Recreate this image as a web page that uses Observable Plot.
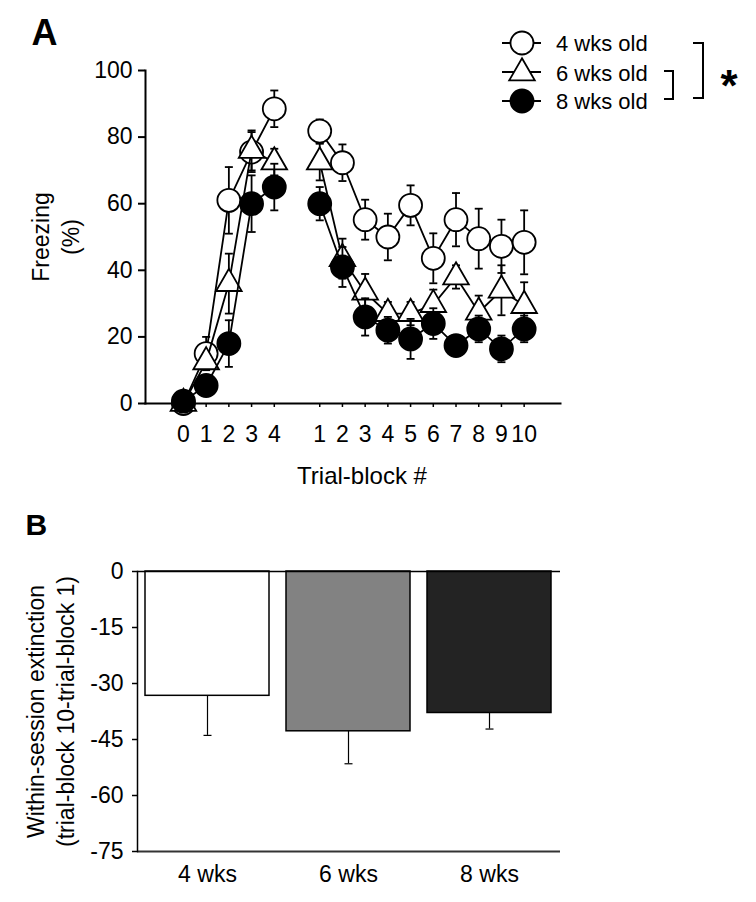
<!DOCTYPE html>
<html>
<head>
<meta charset="utf-8">
<script src="https://cdn.jsdelivr.net/npm/d3@7"></script>
<script src="https://cdn.jsdelivr.net/npm/@observablehq/plot@0.6"></script>
<style>
  html, body { margin: 0; padding: 0; background: white; }
  #chart { position: relative; width: 756px; height: 902px; }
  #chart svg { display: block; }
</style>
</head>
<body>
<div id="chart"></div>
<script>
// ---------- Data ----------
const seriesNames = ["4 wks old", "6 wks old", "8 wks old"];
const acqBlocks = [0, 1, 2, 3, 4];
const extBlocks = [1, 2, 3, 4, 5, 6, 7, 8, 9, 10];

const wk4AcqMean = [0, 15, 61, 75.5, 88.5];
const wk4AcqSem  = [1, 5, 10, 6, 5.5];
const wk6AcqMean = [0, 12.5, 36, 76, 72.5];
const wk6AcqSem  = [1, 2, 9, 6, 4];
const wk8AcqMean = [0.7, 5.4, 18, 60, 65];
const wk8AcqSem  = [1, 3, 7, 8.5, 7];

const wk4ExtMean = [81.8, 72.3, 55.2, 50, 59.5, 43.6, 55.2, 49.5, 47.2, 48.4];
const wk4ExtSem  = [3.5, 5.5, 6, 7, 6, 7.5, 8, 9, 8, 9.6];
const wk6ExtMean = [72.5, 43.5, 33.4, 27, 27, 29.7, 38, 27.4, 34, 29.4];
const wk6ExtSem  = [5.5, 6, 5.5, 3.5, 3.5, 4.5, 3.5, 5, 7.5, 7];
const wk8ExtMean = [60, 41, 26, 22, 19.4, 24, 17.4, 22.4, 16.4, 22.4];
const wk8ExtSem  = [5, 6, 5.6, 4, 6, 4.6, 2, 4, 4, 4];

const yTicksA = [0, 20, 40, 60, 80, 100];

const groupsB = ["4 wks", "6 wks", "8 wks"];
const extinctionB = [-33.3, -42.8, -37.9];
const extinctionSemB = [10.6, 8.7, 4.3];
const barColorsB = ["#ffffff", "#828282", "#232323"];
const yTicksB = [0, -15, -30, -45, -60, -75];

// ---------- Build tables ----------
const FONT = "'Liberation Sans', Arial, Helvetica, sans-serif";
const GAP = 5; // extinction blocks are placed after a gap on the x axis
const acqMeans = [wk4AcqMean, wk6AcqMean, wk8AcqMean];
const acqSems = [wk4AcqSem, wk6AcqSem, wk8AcqSem];
const extMeans = [wk4ExtMean, wk6ExtMean, wk8ExtMean];
const extSems = [wk4ExtSem, wk6ExtSem, wk8ExtSem];

const rowsA = [];
seriesNames.forEach((s, si) => {
  acqBlocks.forEach((b, i) => rowsA.push({series: s, phase: "acq", block: b, pos: b, mean: acqMeans[si][i], sem: acqSems[si][i]}));
  extBlocks.forEach((b, i) => rowsA.push({series: s, phase: "ext", block: b, pos: b + GAP, mean: extMeans[si][i], sem: extSems[si][i]}));
});
const tickPos = [...acqBlocks, ...extBlocks.map(b => b + GAP)];
const tickLab = [...acqBlocks, ...extBlocks].map(String);

const rowsB = groupsB.map((g, i) => ({group: g, value: extinctionB[i], sem: extinctionSemB[i], color: barColorsB[i]}));

// horizontal cap symbol for error bars
const cap = {draw(ctx, size) { const r = Math.sqrt(size / Math.PI); ctx.moveTo(-r, 0); ctx.lineTo(r, 0); }};

const styles = [
  {symbol: "circle", r: 11.5, fill: "white"},
  {symbol: "triangle", r: 9.5, fill: "white"},
  {symbol: "circle", r: 11.5, fill: "black"}
];

const seriesMarks = [];
seriesNames.forEach((s, si) => {
  const d = rowsA.filter(r => r.series === s);
  const st = styles[si];
  seriesMarks.push(
    Plot.line(d, {x: "pos", y: "mean", z: "phase", stroke: "black", strokeWidth: 1.8}),
    Plot.ruleX(d, {x: "pos", y1: r => r.mean - r.sem, y2: r => r.mean + r.sem, stroke: "black", strokeWidth: 1.8}),
    Plot.dot(d, {x: "pos", y: r => r.mean + r.sem, symbol: cap, r: 4, stroke: "black", strokeWidth: 1.8, fill: "none"}),
    Plot.dot(d, {x: "pos", y: r => r.mean - r.sem, symbol: cap, r: 4, stroke: "black", strokeWidth: 1.8, fill: "none"}),
    Plot.dot(d, {x: "pos", y: "mean", symbol: st.symbol, r: st.r, fill: st.fill, stroke: "black", strokeWidth: 1.8})
  );
});

// ---------- Panel A ----------
const plotA = Plot.plot({
  width: 756, height: 500,
  marginLeft: 145, marginRight: 196, marginTop: 70, marginBottom: 97,
  style: {fontFamily: FONT, fontSize: "23px", color: "black", background: "white", overflow: "visible"},
  x: {domain: [-1.67, 16.6]},
  y: {domain: [0, 100]},
  marks: [
    Plot.frame({anchor: "left", strokeWidth: 2}),
    Plot.frame({anchor: "bottom", strokeWidth: 2}),
    Plot.axisY({ticks: yTicksA, tickSize: 7, tickPadding: 6, label: null, fontSize: 23, strokeWidth: 2, tickFormat: d => String(d)}),
    Plot.axisX(tickPos, {tickSize: 4, tickPadding: 18, label: null, fontSize: 23, strokeWidth: 1.5,
      tickFormat: p => tickLab[tickPos.indexOf(p)]}),
    ...seriesMarks,
    Plot.text(["Freezing\n(%)"], {frameAnchor: "left", dx: -91, rotate: -90, fontSize: 23, lineHeight: 1.3, textAnchor: "middle", lineAnchor: "middle"}),
    Plot.text(["Trial-block #"], {frameAnchor: "bottom", dx: 9, dy: 73, fontSize: 24, textAnchor: "middle", lineAnchor: "middle"}),
    Plot.text(["A"], {frameAnchor: "top-left", dx: -114, dy: -51, fontSize: 36, fontWeight: "bold", textAnchor: "start", lineAnchor: "top"})
  ]
});

// Legend (drawn into panel A's svg)
const lg = d3.select(plotA).append("g").attr("font-family", FONT).attr("font-size", 22).attr("text-anchor", "start");
const legendY = [43, 73, 101];
seriesNames.forEach((s, i) => {
  const y = legendY[i];
  const st = styles[i];
  const g = lg.append("g");
  const ly = i === 1 ? y - 1 : y;
  g.append("line").attr("x1", 502).attr("x2", 541).attr("y1", ly).attr("y2", ly)
    .attr("stroke", "black").attr("stroke-width", 1.8);
  const sym = st.symbol === "triangle" ? d3.symbolTriangle : d3.symbolCircle;
  g.append("path").attr("d", d3.symbol(sym, Math.PI * st.r * st.r)())
    .attr("transform", `translate(522,${y})`)
    .attr("fill", st.fill).attr("stroke", "black").attr("stroke-width", 1.8);
  g.append("text").attr("x", 556).attr("y", y + 7.5).attr("text-anchor", "start").text(s);
});
// significance brackets
lg.append("path").attr("d", "M693,43H703V98H693").attr("fill", "none").attr("stroke", "black").attr("stroke-width", 2);
lg.append("path").attr("d", "M664,71H673V99H664").attr("fill", "none").attr("stroke", "black").attr("stroke-width", 2);
lg.append("text").attr("x", 729).attr("y", 101).attr("text-anchor", "middle").attr("font-size", 44).attr("font-weight", "bold").text("*");

// ---------- Panel B ----------
const plotB = Plot.plot({
  width: 756, height: 402,
  marginLeft: 137, marginRight: 196, marginTop: 71, marginBottom: 51,
  style: {fontFamily: FONT, fontSize: "23px", color: "black", background: "white", overflow: "visible"},
  x: {domain: groupsB, paddingInner: 0.12, paddingOuter: 0.06},
  y: {domain: [-75, 0]},
  color: {type: "identity"},
  marks: [
    Plot.barY(rowsB, {x: "group", y: "value", fill: "color", stroke: "black", strokeWidth: 1.5}),
    Plot.ruleX(rowsB, {x: "group", y1: "value", y2: d => d.value - d.sem, stroke: "black", strokeWidth: 1.2}),
    Plot.dot(rowsB, {x: "group", y: d => d.value - d.sem, symbol: cap, r: 4, stroke: "black", strokeWidth: 1.2, fill: "none"}),
    Plot.ruleY([0], {stroke: "black", strokeWidth: 1.5}),
    Plot.ruleY([-75], {stroke: "#333", strokeWidth: 2}),
    Plot.frame({anchor: "left", strokeWidth: 1.5}),
    Plot.axisY({ticks: yTicksB, tickSize: 5, tickPadding: 9, label: null, fontSize: 23, strokeWidth: 1.5, tickFormat: d => String(d)}),
    Plot.axisX({tickSize: 0, tickPadding: 14, label: null, fontSize: 23}),
    Plot.text(["Within-session extinction\n(trial-block 10-trial-block 1)"], {frameAnchor: "left", dx: -88, rotate: -90, fontSize: 23, lineHeight: 1.3, textAnchor: "middle", lineAnchor: "middle"}),
    Plot.text(["B"], {frameAnchor: "top-left", dx: -112, dy: -58, fontSize: 30, fontWeight: "bold", textAnchor: "start", lineAnchor: "top"})
  ]
});

const chart = document.getElementById("chart");
chart.appendChild(plotA);
chart.appendChild(plotB);
</script>
</body>
</html>
